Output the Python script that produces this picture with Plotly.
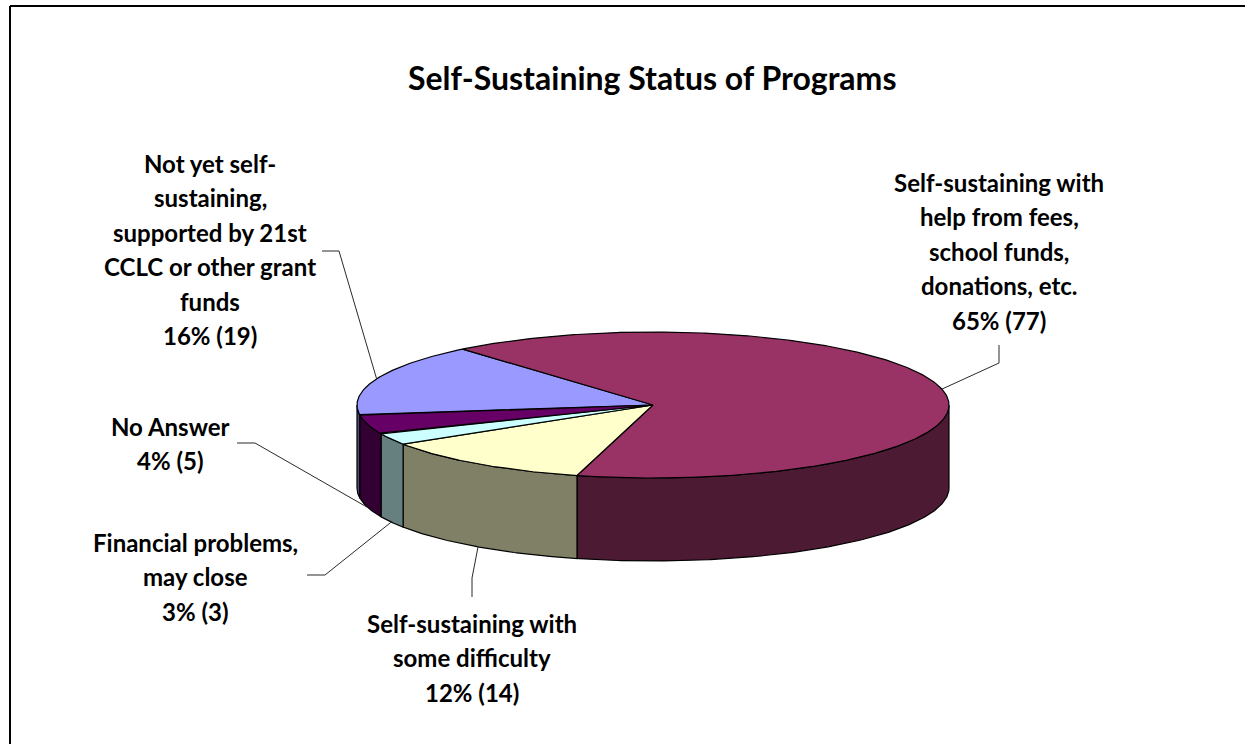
import numpy as np
import plotly.graph_objects as go

# ---- data -------------------------------------------------------------
categories = [
    "Not yet self-sustaining, supported by 21st CCLC or other grant funds",
    "Self-sustaining with help from fees, school funds, donations, etc.",
    "Self-sustaining with some difficulty",
    "Financial problems, may close",
    "No Answer",
]
counts = [19, 77, 14, 3, 5]
label_lines = [
    ["Not yet self-", "sustaining,", "supported by 21st", "CCLC or other grant", "funds"],
    ["Self-sustaining with", "help from fees,", "school funds,", "donations, etc."],
    ["Self-sustaining with", "some difficulty"],
    ["Financial problems,", "may close"],
    ["No Answer"],
]
top_colors = ["#9999FF", "#993366", "#FFFFCC", "#CCFFFF", "#660066"]
side_colors = ["#4C4C80", "#4D1A33", "#808066", "#668080", "#330033"]

# ---- pie geometry (axis units = pixels) -------------------------------
CX, CY = 653, 405          # centre of the top face
RX, RY = 296, 73           # ellipse radii of the top face
DEPTH = 83                 # thickness of the disc
START = 262                # first slice starts here (deg, clockwise from 12 o'clock)

# label placement: centre x, first-line y, leader start, leader elbow
label_pos = [
    dict(x=210, y=163, start=(322, 251), elbow=(339, 251)),
    dict(x=999, y=182, start=(999, 345), elbow=(999, 363)),
    dict(x=472, y=623, start=(472, 597), elbow=(472, 578)),
    dict(x=195, y=542, start=(307, 575), elbow=(325, 575)),
    dict(x=170, y=426, start=(237, 443), elbow=(255, 443)),
]
LINE_STEP = 34.5
FONT = "Lato, Carlito, Calibri, sans-serif"


def pt(t, drop=0.0):
    r = np.radians(t)
    return CX + RX * np.sin(r), CY - RY * np.cos(r) + drop


def arc(t0, t1, drop=0.0):
    n = max(2, int(abs(t1 - t0) * 2) + 1)
    ts = np.linspace(t0, t1, n)
    xs, ys = pt(ts, drop)
    return list(xs), list(ys)


total = sum(counts)
spans = [360.0 * c / total for c in counts]
bounds = []
a = START
for s in spans:
    bounds.append((a, a + s))
    a += s

fig = go.Figure()

# side walls: only the part facing the viewer (90..270 deg) is visible
for (t0, t1), col in zip(bounds, side_colors):
    for k in (-1, 0, 1):
        lo = max(t0, 90 + 360 * k)
        hi = min(t1, 270 + 360 * k)
        if hi <= lo:
            continue
        xt, yt = arc(lo, hi)
        xb, yb = arc(hi, lo, DEPTH)
        fig.add_trace(go.Scatter(
            x=xt + xb + [xt[0]], y=yt + yb + [yt[0]],
            mode="lines", fill="toself", fillcolor=col,
            line=dict(color="black", width=1.2), hoverinfo="skip"))

# top faces
for (t0, t1), col in zip(bounds, top_colors):
    xs, ys = arc(t0, t1)
    fig.add_trace(go.Scatter(
        x=[CX] + xs + [CX], y=[CY] + ys + [CY],
        mode="lines", fill="toself", fillcolor=col,
        line=dict(color="black", width=1.2), hoverinfo="skip"))

# data labels with leader lines
annotations = []
for (t0, t1), c, lines, pos in zip(bounds, counts, label_lines, label_pos):
    mid = ((t0 + t1) / 2) % 360
    front = 90 < mid < 270
    ex, ey = pt(mid, DEPTH if front else 0.0)
    fig.add_trace(go.Scatter(
        x=[pos["start"][0], pos["elbow"][0], ex],
        y=[pos["start"][1], pos["elbow"][1], ey],
        mode="lines", line=dict(color="#2a2a2a", width=1), hoverinfo="skip"))
    pct = round(100 * c / total)
    text_lines = lines + [f"{pct}% ({c})"]
    for i, line in enumerate(text_lines):
        annotations.append(dict(
            x=pos["x"], y=pos["y"] + i * LINE_STEP, xref="x", yref="y",
            text=f"<b>{line}</b>", showarrow=False,
            xanchor="center", yanchor="middle",
            font=dict(family=FONT, size=24, color="black")))

annotations.append(dict(
    x=652, y=77, xref="x", yref="y",
    text="<b>Self-Sustaining Status of Programs</b>", showarrow=False,
    xanchor="center", yanchor="middle",
    font=dict(family=FONT, size=32, color="black")))

# chart-area frame (top and left edges fall inside the page)
shapes = [
    dict(type="line", xref="x", yref="y", x0=10, y0=6, x1=1245, y1=6,
         line=dict(color="black", width=2)),
    dict(type="line", xref="x", yref="y", x0=10, y0=6, x1=10, y1=744,
         line=dict(color="black", width=2)),
]

fig.update_layout(
    width=1245, height=744, autosize=False,
    margin=dict(l=0, r=0, t=0, b=0),
    paper_bgcolor="white", plot_bgcolor="white",
    showlegend=False,
    xaxis=dict(range=[0, 1245], visible=False, fixedrange=True),
    yaxis=dict(range=[744, 0], visible=False, fixedrange=True),
    annotations=annotations, shapes=shapes,
)

fig.write_html("out.html")
